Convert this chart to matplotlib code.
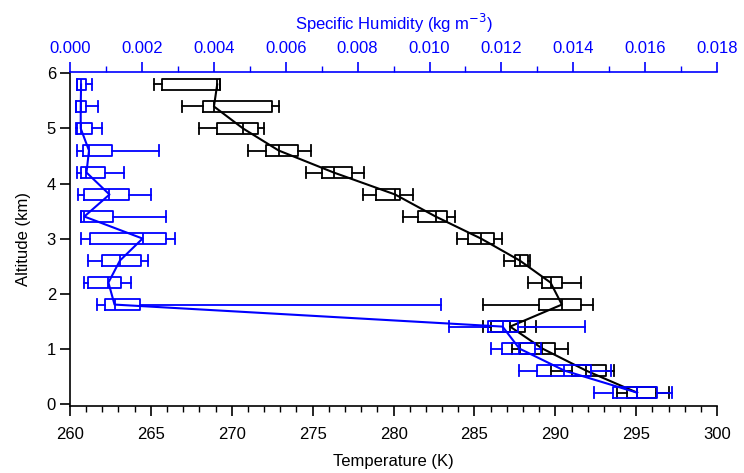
import matplotlib
matplotlib.use('Agg')
import matplotlib.pyplot as plt
from matplotlib.ticker import MultipleLocator

plt.rcParams['font.family'] = ['Liberation Sans', 'DejaVu Sans']

# altitude levels (km)
alt = [0.2, 0.6, 1.0, 1.4, 1.8, 2.2, 2.6, 3.0, 3.4, 3.8, 4.2, 4.6, 5.0, 5.4, 5.8]

# temperature (K): whisker low, q1, median, q3, whisker high
t_lo  = [293.8, 289.7, 287.3, 285.5, 285.5, 288.3, 286.8, 283.9, 280.6, 278.1, 274.6, 271.0, 268.0, 266.9, 265.2]
t_q1  = [294.4, 291.0, 287.8, 286.0, 289.0, 289.2, 287.5, 284.6, 281.5, 278.9, 275.6, 272.1, 269.1, 268.2, 265.7]
t_med = [295.05, 291.9, 289.2, 287.2, 290.4, 289.7, 287.8, 285.4, 282.6, 280.1, 276.3, 272.9, 270.7, 268.9, 269.1]
t_q3  = [296.2, 293.1, 290.0, 288.1, 291.6, 290.4, 288.3, 286.2, 283.3, 280.4, 277.4, 274.1, 271.6, 272.5, 269.3]
t_hi  = [297.0, 293.6, 290.8, 288.8, 292.3, 291.6, 288.4, 286.7, 283.8, 281.2, 278.2, 274.9, 272.0, 272.9, 269.3]

# specific humidity (kg m-3)
q_lo  = [0.01457, 0.01248, 0.01171, 0.01053, 0.00074, 0.00040, 0.00051, 0.00031, 0.00032, 0.00023, 0.00020, 0.00020, 0.00018, 0.00018, 0.00019]
q_q1  = [0.01510, 0.01298, 0.01202, 0.01163, 0.00098, 0.00049, 0.00088, 0.00056, 0.00032, 0.00039, 0.00032, 0.00035, 0.00021, 0.00018, 0.00020]
q_med = [0.01577, 0.01375, 0.01250, 0.01203, 0.00124, 0.00107, 0.00139, 0.00202, 0.00040, 0.00110, 0.00046, 0.00053, 0.00030, 0.00030, 0.00031]
q_q3  = [0.01633, 0.01450, 0.01292, 0.01245, 0.00194, 0.00142, 0.00197, 0.00268, 0.00119, 0.00164, 0.00098, 0.00116, 0.00060, 0.00044, 0.00044]
q_hi  = [0.01673, 0.01505, 0.01310, 0.01433, 0.01032, 0.00169, 0.00216, 0.00291, 0.00267, 0.00226, 0.00149, 0.00248, 0.00090, 0.00077, 0.00060]

blue = '#0000ff'


def stats(lo, q1, med, q3, hi):
    return [dict(whislo=a, q1=b, med=c, q3=d, whishi=e)
            for a, b, c, d, e in zip(lo, q1, med, q3, hi)]


def style(c):
    p = dict(color=c, linewidth=1.3)
    return dict(boxprops=p, medianprops=p, whiskerprops=p, capprops=p)


fig = plt.figure(figsize=(7.44, 4.73), dpi=100)
ax = fig.add_axes([0.094, 0.142, 0.870, 0.705])

ax.bxp(stats(t_lo, t_q1, t_med, t_q3, t_hi), positions=alt, widths=0.19,
       capwidths=0.19, orientation='horizontal', showfliers=False,
       manage_ticks=False, **style('black'))
ax.plot(t_med, alt, color='black', lw=1.5)

ax.set_xlim(260, 300)
ax.set_ylim(-0.04, 6.02)
ax.xaxis.set_major_locator(MultipleLocator(5))
ax.xaxis.set_minor_locator(MultipleLocator(1))
ax.yaxis.set_major_locator(MultipleLocator(1))
ax.tick_params(axis='x', which='major', direction='out', length=7, width=1.2, labelsize=12, pad=8)
ax.tick_params(axis='x', which='minor', direction='out', length=4, width=1.0)
ax.tick_params(axis='y', direction='out', length=7, width=1.2, labelsize=12, pad=3)
ax.spines['right'].set_visible(False)
ax.spines['top'].set_visible(False)
ax.spines['left'].set_linewidth(1.2)
ax.spines['bottom'].set_linewidth(1.2)
ax.set_xlabel('Temperature (K)', fontsize=12, labelpad=9)
ax.set_ylabel('Altitude (km)', fontsize=12, labelpad=11)

ax2 = ax.twiny()
ax2.bxp(stats(q_lo, q_q1, q_med, q_q3, q_hi), positions=alt, widths=0.19,
        capwidths=0.19, orientation='horizontal', showfliers=False,
        manage_ticks=False, **style(blue))
ax2.plot(q_med, alt, color=blue, lw=1.5)
ax2.set_xlim(0, 0.018)
ax2.set_ylim(-0.04, 6.02)
ax2.xaxis.set_major_locator(MultipleLocator(0.002))
ax2.xaxis.set_minor_locator(MultipleLocator(0.001))
ax2.xaxis.set_major_formatter(lambda v, p: f'{v:.3f}')
ax2.tick_params(axis='x', which='major', direction='out', length=7, width=1.2,
                labelsize=12, pad=5, color=blue, labelcolor=blue)
ax2.tick_params(axis='x', which='minor', direction='out', length=4, width=1.0, color=blue)
for s in ['right', 'bottom', 'left']:
    ax2.spines[s].set_visible(False)
ax2.spines['top'].set_color(blue)
ax2.spines['top'].set_linewidth(1.2)
ax2.set_xlabel('Specific Humidity (kg m$^{-3}$)', fontsize=12, color=blue, labelpad=8)

fig.savefig('out.png', dpi=100)
